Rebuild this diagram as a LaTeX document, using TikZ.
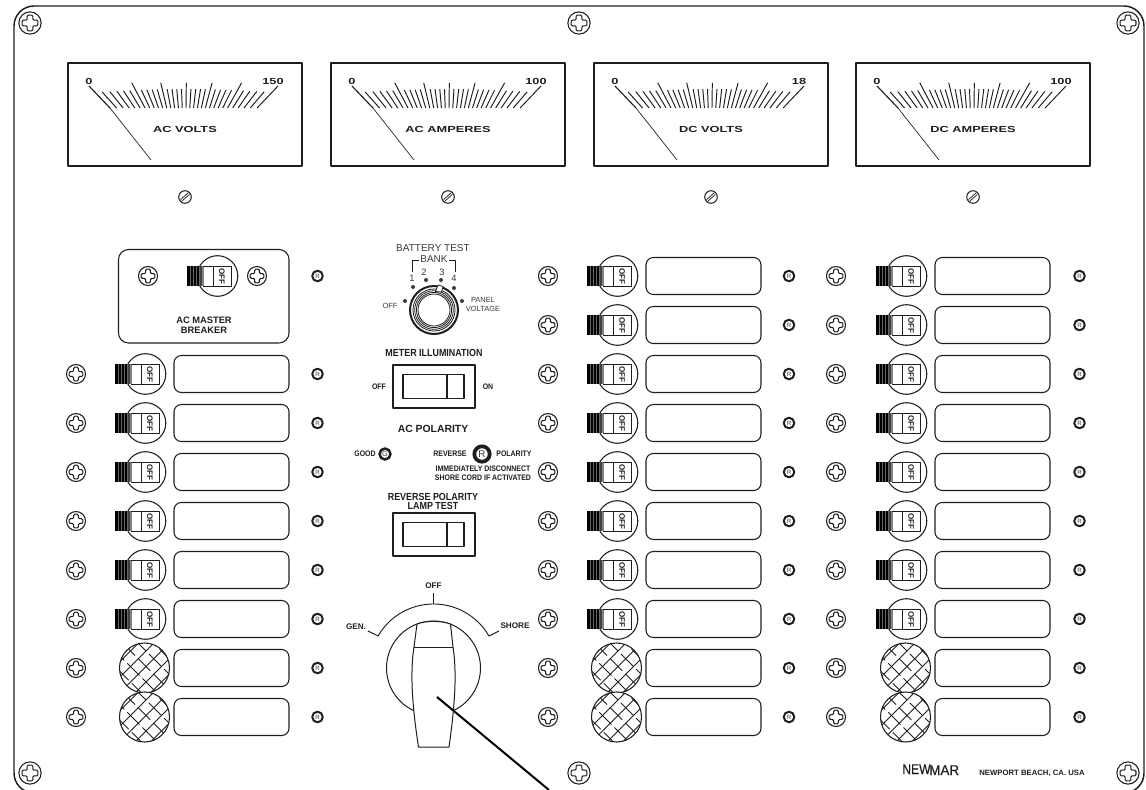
\documentclass[tikz,border=0pt]{standalone}
\usepackage{fontspec}
\setmainfont{Liberation Sans}
\newfontfamily\widefont[FakeStretch=1.45]{Liberation Sans}
\newfontfamily\condfont[FakeStretch=0.87]{Liberation Sans}
\newfontfamily\narrowfont[FakeStretch=0.86,FakeBold=0.4]{Liberation Sans}
\newfontfamily\marfont[FakeStretch=0.95,FakeBold=0.4]{Liberation Sans}
\newcommand{\pxfont}[1]{\fontsize{#1}{#1}\selectfont}
\definecolor{ink}{HTML}{1E1E1E}
\definecolor{lampgray}{HTML}{3A3A3A}
\tikzset{
  x=0.75pt,y=-0.75pt,
  ink line/.style={draw=ink,line width=0.8pt},
  thin ink/.style={draw=ink,line width=0.55pt},
  txt/.style={inner sep=0pt,outer sep=0pt,text=ink,align=center},
  small bold/.style={txt,font=\pxfont{6}\condfont\bfseries},
  rotary bold/.style={txt,font=\pxfont{6.1}\bfseries},
  small reg/.style={txt,font=\pxfont{5.6},text=lampgray},
  title bold/.style={txt,font=\pxfont{7.7}\condfont\bfseries},
  title bold big/.style={txt,font=\pxfont{7.8}\bfseries},
  wide bold/.style={txt,font=\pxfont{6.6}\widefont\bfseries},
}
\newcommand{\screwat}[3]{%
  \begin{scope}[shift={(#1,#2)},scale=#3]
    \draw[ink line,fill=white] (0,0) circle[radius=9.5];
    \draw[thin ink,line width=0.8pt,rounded corners=0.9pt]
      (-2.4,-6.8) -- (2.4,-6.8) -- (2.4,-2.4) -- (6.8,-2.4) -- (6.8,2.4) -- (2.4,2.4)
      -- (2.4,6.8) -- (-2.4,6.8) -- (-2.4,2.4) -- (-6.8,2.4) -- (-6.8,-2.4) -- (-2.4,-2.4) -- cycle;
  \end{scope}}
\newcommand{\lampat}[3]{%
  \draw[draw=ink,line width=1.5pt,fill=white] (#1,#2) circle[radius=5.3];
  \node[txt,font=\pxfont{4.6},text=lampgray] at (#1,#2) {#3};}
\newcommand{\labelbox}[2]{%
  \draw[ink line,rounded corners=5.5pt] (#1,#2-18.5) rectangle (#1+115,#2+18.5);}
\newcommand{\switchat}[2]{%
  \begin{scope}[shift={(#1,#2)}]
    \draw[ink line,fill=white] (30.5,0) circle[radius=20.3];
    \fill[black] (0,-10) rectangle (12,10);
    \fill[ink!85] (12,-10) rectangle (14.5,10);
    \fill[ink!55] (14.5,-10) rectangle (16.5,10);
    \foreach \sx in {3.5,6.5,9.5,12}{\draw[white!40!black,line width=0.4pt] (\sx,-10) -- (\sx,10);}
    \draw[ink line,line width=0.7pt] (16,-10) -- (44,-10) -- (44,10) -- (16,10);
    \draw[ink line,line width=0.7pt] (26,-10) -- (26,10);
    \node[txt,font=\pxfont{6}\bfseries,rotate=-90] at (35,0) {OFF};
  \end{scope}}
\newcommand{\hatchat}[2]{%
  \begin{scope}[shift={(#1,#2)}]
    \fill[white] (0,0) circle[radius=25];
    \begin{scope}
      \clip (0,0) circle[radius=25];
      \foreach \k in {-3,...,3}{
        \draw[thin ink,line width=0.65pt] (-40+\k*15.5,40) -- (40+\k*15.5,-40);
        \draw[thin ink,line width=0.65pt,dash pattern=on 13pt off 3.2pt,dash phase=\k*5pt]
          (-40+\k*15.5+3,-40) -- (40+\k*15.5+3,40);
      }
    \end{scope}
    \draw[ink line] (0,0) circle[radius=25];
  \end{scope}}
\newcommand{\rowsw}[4]{%
  \screwat{#1}{#3}{1}
  \switchat{#2}{#3}
  \labelbox{#2+59}{#3}
  \lampat{#4}{#3}{R}}
\newcommand{\rowblank}[4]{%
  \screwat{#1}{#3}{1}
  \hatchat{#2+29.5}{#3}
  \labelbox{#2+59}{#3}
  \lampat{#4}{#3}{R}}
\newcommand{\meter}[3]{%
  \begin{scope}[shift={(#1,0)}]
    \draw[draw=ink,line width=1.35pt,fill=white] (68,63) rectangle (302,166);
    \foreach \i in {0,...,30}{
      \pgfmathsetmacro{\ang}{-42+2.85*\i}
      \pgfmathtruncatemacro{\maj}{mod(\i,5)==0 ? 1 : 0}
      \pgfmathsetmacro{\ytop}{\i==0 ? 92 : (\i==30 ? 86 : (\maj==1 ? 82.8 : 89+3*(\ang/42)*(\ang/42)))}
      \pgfmathsetmacro{\xt}{185+(184-\ytop)*tan(\ang)}
      \pgfmathsetmacro{\xb}{185+(184-108)*tan(\ang)}
      \draw[draw=ink,line width=0.72pt] (\xt,\ytop) -- (\xb,108);
    }
    \draw[draw=ink,line width=0.85pt] (89,86) -- (110,108);
    \draw[draw=ink,line width=0.5pt] (110,108) -- (151,160);
    \node[wide bold] at (89,81) {0};
    \node[wide bold] at (273,81) {#3};
    \node[wide bold] at (185,129) {#2};
    \draw[ink line,line width=0.75pt] (185,197) circle[radius=6.3];
    \draw[ink line,line width=0.55pt] (180.6,199.6) -- (188.4,192.6);
    \draw[ink line,line width=0.55pt] (181.6,201.4) -- (189.4,194.4);
  \end{scope}}
\newcommand{\rocker}[2]{%
  \draw[draw=ink,line width=1.1pt] (393,#1) rectangle (475,#2);
  \draw[draw=ink,line width=1.1pt] (403,#1+9.5) rectangle (464,#2-9.5);
  \draw[draw=ink,line width=1.1pt] (447,#1+9.5) -- (447,#2-9.5);}
\begin{document}
\begin{tikzpicture}[line join=round]
\useasboundingbox (0,0) rectangle (1146,789);
\clip (0,0) rectangle (1146,789);
\draw[draw=ink,line width=1.1pt,rounded corners=15pt] (14,6) rectangle (1144,793);
\screwat{30}{23}{1.17}
\screwat{579}{23}{1.17}
\screwat{1128}{23}{1.17}
\screwat{30}{773}{1.17}
\screwat{579}{773}{1.17}
\screwat{1128}{773}{1.17}
\meter{0}{AC VOLTS}{150}
\meter{263}{AC AMPERES}{100}
\meter{526}{DC VOLTS}{18}
\meter{788}{DC AMPERES}{100}
\draw[ink line,rounded corners=7.5pt] (118.5,249.5) rectangle (289,343);
\screwat{148}{276}{1}
\screwat{257}{276}{1}
\switchat{187}{276}
\lampat{317.5}{276}{R}
\node[txt,font=\pxfont{7}\bfseries] at (204,325) {AC MASTER\\[0.5pt]BREAKER};
\foreach \yy in {374,423,472,521,570,619}{\rowsw{76}{115}{\yy}{317.5}}
\foreach \yy in {668,717}{\rowblank{76}{115}{\yy}{317.5}}
\foreach \yy in {276,325,374,423,472,521,570,619}{\rowsw{548}{587}{\yy}{789}}
\foreach \yy in {668,717}{\rowblank{548}{587}{\yy}{789}}
\foreach \yy in {276,325,374,423,472,521,570,619}{\rowsw{836}{876}{\yy}{1079.5}}
\foreach \yy in {668,717}{\rowblank{836}{876}{\yy}{1079.5}}
% battery test selector
\node[txt,font=\pxfont{7.5},text=lampgray] at (433,248) {BATTERY TEST};
\node[txt,font=\pxfont{7.5},text=lampgray] at (434,259) {BANK};
\draw[draw=ink,line width=0.75pt] (412.5,272) -- (412.5,260) -- (419,260);
\draw[draw=ink,line width=0.75pt] (455,272) -- (455,260) -- (449,260);
\foreach \tx/\ty/\lab in {412/278/1,424/272/2,442/272/3,454/278/4}{
  \node[txt,font=\pxfont{7},text=lampgray] at (\tx,\ty) {\lab};}
\foreach \ptx/\pty in {405/301,413/287,426/280,441/280,454/288,462/301}{
  \fill[lampgray] (\ptx,\pty) circle[radius=2];}
\draw[draw=ink,line width=1.5pt,fill=white] (434,310) circle[radius=24];
\foreach \rr in {21,19.3,17.6,16}{\draw[draw=ink,line width=0.6pt] (434,310) circle[radius=\rr];}
\draw[draw=ink,line width=0.6pt,fill=white] (435.5,291.5) -- (438,285) -- (443,286.5) -- (441.5,292) -- cycle;
\node[small reg] at (390,306) {OFF};
\node[small reg] at (483,304) {PANEL\\[1.2pt]VOLTAGE};
% meter illumination
\node[title bold] at (434,353) {METER ILLUMINATION};
\rocker{365}{408}
\node[small bold] at (379,387) {OFF};
\node[small bold] at (488,387) {ON};
% AC polarity
\node[title bold big] at (433,429) {AC POLARITY};
\node[small bold] at (365,454) {GOOD};
\draw[draw=ink,line width=1.9pt,fill=white] (385,454) circle[radius=5.5];
\node[txt,font=\pxfont{5.4},text=lampgray] at (385,454) {G};
\node[small bold] at (450,454) {REVERSE};
\draw[draw=ink,line width=2.8pt,fill=white] (482,454) circle[radius=7.7];
\node[txt,font=\pxfont{7.4},text=lampgray] at (482,454) {R};
\node[small bold] at (514,454) {POLARITY};
\node[small bold] at (483,473.3) {IMMEDIATELY DISCONNECT\\[0.6pt]SHORE CORD IF ACTIVATED};
\node[title bold] at (433,501.7) {REVERSE POLARITY\\[-0.6pt]LAMP TEST};
\rocker{513}{556}
% rotary selector
\node[rotary bold] at (433.5,586) {OFF};
\draw[draw=ink,line width=0.7pt] (433.5,593) -- (433.5,604);
\draw[draw=ink,line width=0.7pt] (368,631) -- (378.1,636) arc[start angle=210,end angle=330,radius=64] -- (499,631);
\node[rotary bold] at (356,627) {GEN.};
\node[rotary bold] at (515,626) {SHORE};
\draw[draw=ink,line width=0.75pt,fill=white] (433.5,668) circle[radius=47];
\draw[draw=ink,line width=0.75pt,fill=white]
  (417,624) -- (414,647)
  .. controls (410,672) and (412,705) .. (418.5,747)
  -- (449,747)
  .. controls (455,705) and (457,672) .. (453,647)
  -- (450.5,624)
  .. controls (440,620.5) and (427,620.5) .. (417,624) -- cycle;
\draw[draw=ink,line width=0.75pt] (414,647) -- (453,647);
\draw[draw=black,line width=1.5pt] (437,697) -- (549,790);
% maker
\node[anchor=base west,inner sep=0pt,text=ink,font=\pxfont{10.6}\narrowfont] at (902,774) {NEW};
\node[anchor=base west,inner sep=0pt,text=ink,font=\pxfont{10.6}\marfont] at (929,775) {MAR};
\node[txt,font=\pxfont{5.8}\bfseries] at (1032,773) {NEWPORT BEACH, CA. USA};
\end{tikzpicture}
\end{document}
